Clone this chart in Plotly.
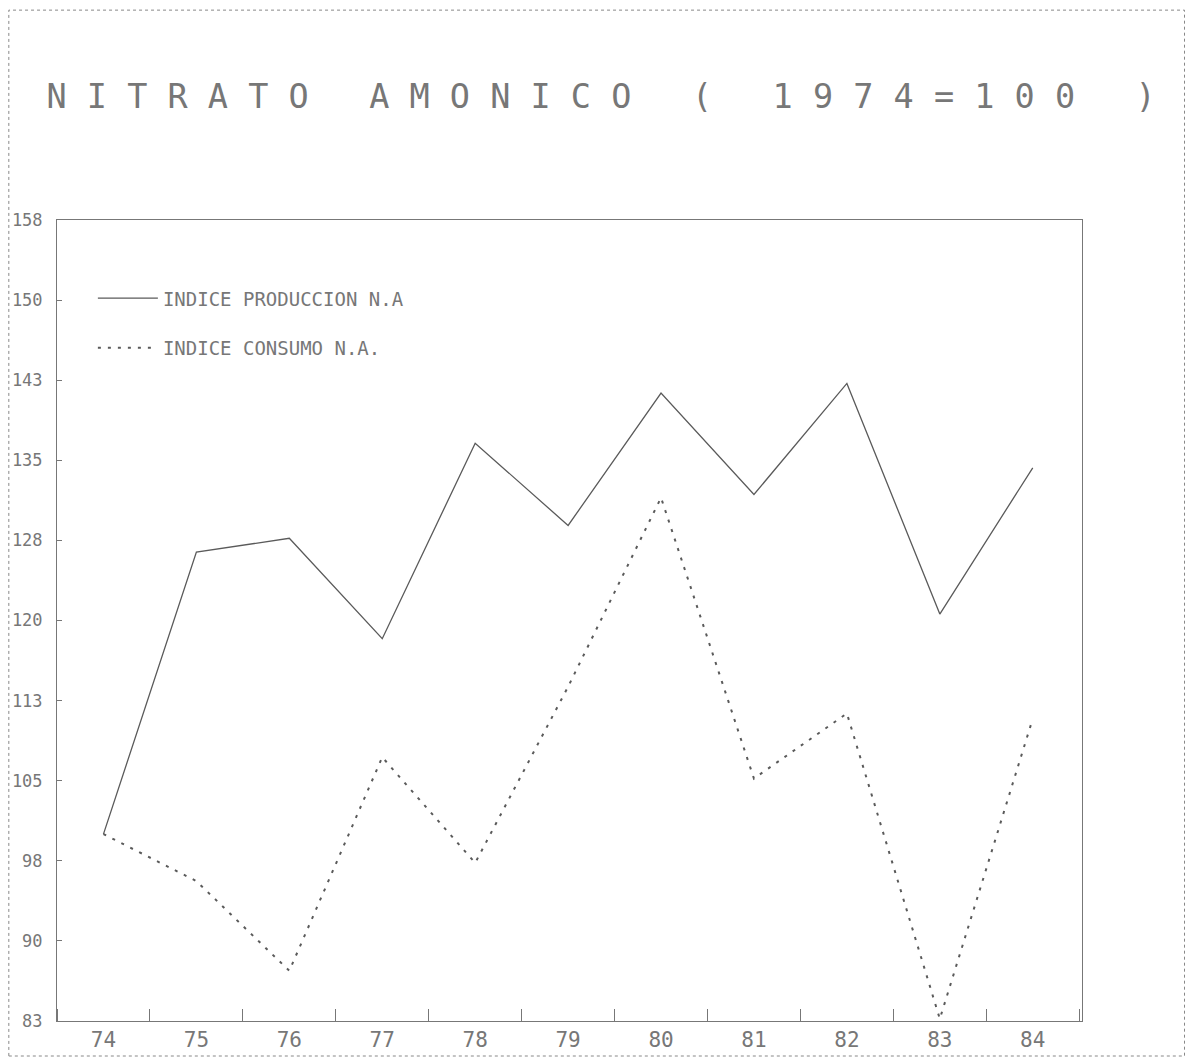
import plotly.graph_objects as go

# Index values, 1974 = 100
years = [74, 75, 76, 77, 78, 79, 80, 81, 82, 83, 84]
produccion = [100.5, 126.9, 128.2, 118.8, 137.1, 129.4, 141.8, 132.3, 142.7, 121.1, 134.8]
consumo = [100.5, 96.1, 87.7, 107.7, 97.8, 114.3, 132.0, 105.7, 111.8, 83.2, 111.3]

y_tickvals = [83, 90.5, 98, 105.5, 113, 120.5, 128, 135.5, 143, 150.5, 158]
y_ticktext = ["83", "90", "98", "105", "113", "120", "128", "135", "143", "150", "158"]
x_ticktext = ["74", "75", "76", "77", "78", "79", "80", "81", "82", "83", "84"]

ink = "#5a5a5a"
font = "DejaVu Sans Mono"

fig = go.Figure()
fig.add_trace(
    go.Scatter(
        x=years, y=produccion, mode="lines", name="INDICE PRODUCCION N.A",
        line=dict(color=ink, width=1.3), legendgroup="a",
    )
)
fig.add_trace(
    go.Scatter(
        x=years, y=consumo, mode="lines", name="INDICE CONSUMO N.A.",
        line=dict(color=ink, width=2, dash="3px,7px"), legendgroup="b",
    )
)

fig.update_xaxes(
    range=[73.5, 84.53], tickvals=years, ticktext=x_ticktext, ticks="",
    showline=True, linecolor="#777", linewidth=1, mirror=True, showgrid=False,
    zeroline=False, tickfont=dict(family=font, size=21, color="#777"),
    minor=dict(ticks="inside", tick0=74.5, dtick=1, ticklen=12, tickcolor="#777", showgrid=False),
)
fig.update_yaxes(
    range=[83, 158], tickvals=y_tickvals, ticktext=y_ticktext, ticks="inside",
    ticklen=5, tickcolor="#777", showline=True, linecolor="#777", linewidth=1,
    mirror=True, showgrid=False, zeroline=False, ticklabelstandoff=10,
    automargin=False, tickfont=dict(family=font, size=17, color="#777"),
)
# dotted frame round the whole sheet
fig.add_shape(
    type="rect", xref="paper", yref="paper", x0=-0.047, x1=1.1, y0=-0.0437, y1=1.262,
    line=dict(color="#888", width=1, dash="dot"),
)
fig.update_layout(
    width=1203, height=1062,
    margin=dict(l=49, r=129, t=212, b=49),
    plot_bgcolor="white", paper_bgcolor="white",
    title=dict(
        text="N I T R A T O   A M O N I C O   (   1 9 7 4 = 1 0 0   )",
        x=0.032, xanchor="left", y=0.917, yanchor="middle",
        font=dict(family=font, size=33.5, color="#777"),
    ),
    legend=dict(
        x=0.035, y=0.926, xanchor="left", yanchor="top", bgcolor="rgba(0,0,0,0)",
        font=dict(family=font, size=19, color="#777"), tracegroupgap=22,
        itemwidth=60,
    ),
)
fig.write_html("out.html")
